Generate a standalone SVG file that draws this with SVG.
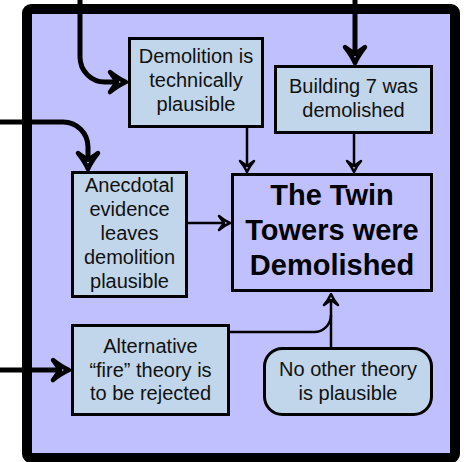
<svg xmlns="http://www.w3.org/2000/svg" width="466" height="462" viewBox="0 0 466 462">
<style>
.box{fill:#c1d6ea;stroke:#000;stroke-width:3}
.t{font-family:"Liberation Sans",Arial,sans-serif;font-size:20px;fill:#111;text-anchor:middle}
.tb{font-family:"Liberation Sans",Arial,sans-serif;font-size:29px;font-weight:bold;fill:#000;text-anchor:middle}
.thick{fill:none;stroke:#000;stroke-width:5}
.thin{fill:none;stroke:#000;stroke-width:2.5}
</style>
<defs>
<marker id="ah" markerUnits="userSpaceOnUse" viewBox="-12 -14 28 28" markerWidth="28" markerHeight="28" refX="0" refY="0" orient="auto" overflow="visible">
<path d="M-7,-10 Q2,-3 9,0 Q2,3 -7,10 L0,0 Z" fill="none" stroke="#000" stroke-width="4.5" stroke-linejoin="round"/>
</marker>
<marker id="as" markerUnits="userSpaceOnUse" viewBox="-10 -10 20 20" markerWidth="20" markerHeight="20" refX="0" refY="0" orient="auto" overflow="visible">
<path d="M-5,-7 Q1,-2 6,0 Q1,2 -5,7 L0,0 Z" fill="none" stroke="#000" stroke-width="2.5" stroke-linejoin="round"/>
</marker>
</defs>
<rect x="27" y="9" width="428" height="449" rx="4" fill="#c0c0ff" stroke="#000" stroke-width="10"/>
<g id="connectors">
<path class="thick" d="M80,0 V57 A25,25 0 0 0 105,82 H117" marker-end="url(#ah)"/>
<path class="thick" d="M0,122 H63 A25,25 0 0 1 88,147 V160" marker-end="url(#ah)"/>
<path class="thick" d="M355,0 V54" marker-end="url(#ah)"/>
<path class="thick" d="M0,370 H60" marker-end="url(#ah)"/>
<path class="thin" d="M247,128 V166" marker-end="url(#as)"/>
<path class="thin" d="M354,134 V166" marker-end="url(#as)"/>
<path class="thin" d="M188,223 H224" marker-end="url(#as)"/>
<path class="thin" d="M331,347 V300" marker-end="url(#as)"/>
<path class="thin" d="M230,332 H314 A17,17 0 0 0 331,315"/>
</g>
<g id="demolition">
<rect class="box" x="129.5" y="38.5" width="133" height="88"/>
<text class="t" x="196" y="63">Demolition is</text>
<text class="t" x="196" y="87">technically</text>
<text class="t" x="196" y="111">plausible</text>
</g>
<g id="building7">
<rect class="box" x="275.5" y="66.5" width="156" height="66"/>
<text class="t" x="353.5" y="93">Building 7 was</text>
<text class="t" x="353.5" y="117">demolished</text>
</g>
<g id="anecdotal">
<rect class="box" x="72.5" y="172.5" width="114" height="124"/>
<text class="t" x="129.5" y="192">Anecdotal</text>
<text class="t" x="129.5" y="216">evidence</text>
<text class="t" x="129.5" y="240">leaves</text>
<text class="t" x="129.5" y="264">demolition</text>
<text class="t" x="129.5" y="288">plausible</text>
</g>
<g id="twin">
<rect class="box" x="232.5" y="174.5" width="199" height="116" style="fill:#c0c0ff"/>
<text class="tb" x="332" y="205">The Twin</text>
<text class="tb" x="332" y="240">Towers were</text>
<text class="tb" x="332" y="275">Demolished</text>
</g>
<g id="alternative">
<rect class="box" x="72.5" y="325.5" width="156" height="89"/>
<text class="t" x="150.5" y="353">Alternative</text>
<text class="t" x="150.5" y="377">“fire” theory is</text>
<text class="t" x="150.5" y="400">to be rejected</text>
</g>
<g id="noother">
<rect class="box" x="264.5" y="348.5" width="167" height="66" rx="18"/>
<text class="t" x="348" y="376">No other theory</text>
<text class="t" x="348" y="400">is plausible</text>
</g>
</svg>
